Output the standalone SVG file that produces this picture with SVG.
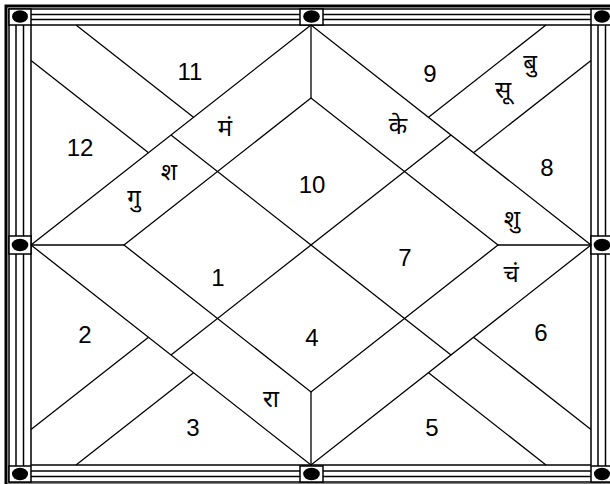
<svg xmlns="http://www.w3.org/2000/svg" width="610" height="484" viewBox="0 0 610 484">
<style>
.ln{stroke:#000;stroke-width:1.3;fill:none}
.fr{stroke:#000;stroke-width:1.5;fill:none}
.box{fill:#fff;stroke:#000;stroke-width:1.5}
.t{font-family:"Liberation Sans","Noto Sans",sans-serif;font-size:24px;fill:#000;text-anchor:middle}
.h{font-family:"Noto Sans","Liberation Sans",sans-serif;font-size:24px;fill:#000;text-anchor:middle}
</style>
<rect width="610" height="484" fill="#fff"/>
<g id="frame">
<rect x="6" y="6" width="610" height="479" fill="none" stroke="#000" stroke-width="3"/>
<rect x="9" y="9" width="604" height="473" class="fr"/>
<rect x="31" y="25" width="560" height="440" class="fr"/>
<line x1="9" y1="14.5" x2="613" y2="14.5" class="fr"/>
<line x1="9" y1="19.5" x2="613" y2="19.5" class="fr"/>
<line x1="9" y1="471" x2="613" y2="471" class="fr"/>
<line x1="9" y1="476.5" x2="613" y2="476.5" class="fr"/>
<line x1="16" y1="9" x2="16" y2="482" class="fr"/>
<line x1="23.5" y1="9" x2="23.5" y2="482" class="fr"/>
<line x1="598" y1="9" x2="598" y2="482" class="fr"/>
<line x1="605.5" y1="9" x2="605.5" y2="482" class="fr"/>
</g>
<g id="pins">
<rect x="9" y="9" width="22" height="16" class="box"/><ellipse cx="20" cy="16.5" rx="8" ry="6.2"/>
<rect x="300" y="9" width="23" height="16" class="box"/><ellipse cx="311.5" cy="16.5" rx="8.3" ry="6.2"/>
<rect x="591" y="9" width="22" height="16" class="box"/><ellipse cx="602" cy="16.5" rx="8" ry="6.2"/>
<rect x="9" y="236" width="22" height="18" class="box"/><ellipse cx="20" cy="245" rx="8.3" ry="6.2"/>
<rect x="591" y="236" width="22" height="18" class="box"/><ellipse cx="602" cy="245" rx="8.3" ry="6.2"/>
<rect x="9" y="466" width="22" height="16" class="box"/><ellipse cx="20" cy="474" rx="8" ry="6.2"/>
<rect x="300" y="466" width="23" height="16" class="box"/><ellipse cx="311.5" cy="474" rx="8.3" ry="6.2"/>
<rect x="591" y="466" width="22" height="16" class="box"/><ellipse cx="602" cy="474" rx="8" ry="6.2"/>
</g>
<g id="connectors">
<polygon points="311,25 31,245 311,465 591,245" class="ln"/>
<polygon points="311,98 124,245 311,392 498,245" class="ln"/>
<line x1="31" y1="245" x2="124" y2="245" class="ln"/>
<line x1="498" y1="245" x2="591" y2="245" class="ln"/>
<line x1="311" y1="25" x2="311" y2="98" class="ln"/>
<line x1="311" y1="392" x2="311" y2="465" class="ln"/>
<line x1="171" y1="135" x2="451" y2="355" class="ln"/>
<line x1="451" y1="135" x2="171" y2="355" class="ln"/>
<line x1="76" y1="25" x2="193.5" y2="117.3" class="ln"/>
<line x1="31" y1="60.4" x2="148.5" y2="152.7" class="ln"/>
<line x1="546" y1="25" x2="428.5" y2="117.3" class="ln"/>
<line x1="591" y1="60.4" x2="473.5" y2="152.7" class="ln"/>
<line x1="76" y1="465" x2="193.5" y2="372.7" class="ln"/>
<line x1="31" y1="429.6" x2="148.5" y2="337.3" class="ln"/>
<line x1="546" y1="465" x2="428.5" y2="372.7" class="ln"/>
<line x1="591" y1="429.6" x2="473.5" y2="337.3" class="ln"/>
</g>
<g id="house-1"><text class="t" x="218" y="286">1</text></g>
<g id="house-2"><text class="t" x="85" y="343">2</text></g>
<g id="house-3"><text class="t" x="193" y="436">3</text></g>
<g id="house-4"><text class="t" x="312" y="346">4</text><text class="h" x="271" y="407">रा</text></g>
<g id="house-5"><text class="t" x="432" y="436">5</text></g>
<g id="house-6"><text class="t" x="541" y="341">6</text></g>
<g id="house-7"><text class="t" x="405" y="266">7</text><text class="h" x="512" y="227">शु</text><text class="h" x="511" y="282">चं</text></g>
<g id="house-8"><text class="t" x="547" y="176">8</text></g>
<g id="house-9"><text class="t" x="430" y="82">9</text><text class="h" x="398" y="134">के</text><text class="h" x="503" y="98">सू</text><text class="h" x="530" y="71">बु</text></g>
<g id="house-10"><text class="t" x="312" y="193">10</text><text class="h" x="225" y="136">मं</text></g>
<g id="house-11"><text class="t" x="190" y="80">11</text></g>
<g id="house-12"><text class="t" x="80" y="156">12</text><text class="h" x="169" y="180">श</text><text class="h" x="134" y="206">गु</text></g>
</svg>
